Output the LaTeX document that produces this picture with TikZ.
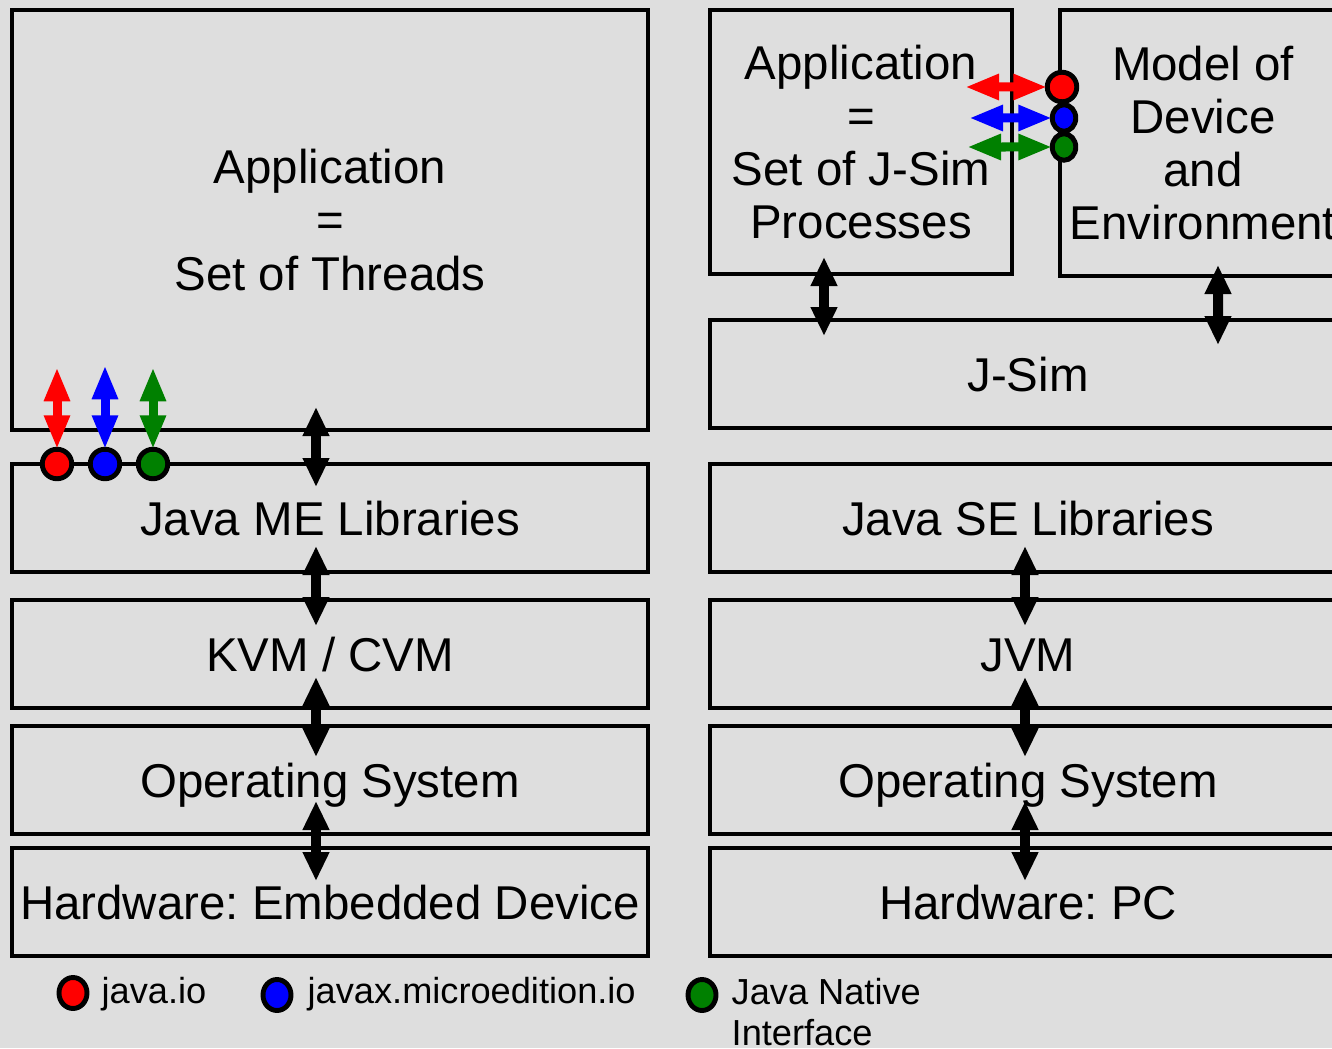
\documentclass[tikz,border=0pt]{standalone}
\usepackage{fontspec}
\setmainfont{Liberation Sans}
\usetikzlibrary{arrows.meta, positioning, calc, shapes.geometric}
\definecolor{bg}{RGB}{222,222,222}
\definecolor{jgreen}{RGB}{0,128,0}
\frenchspacing

\begin{document}
\begin{tikzpicture}[
  layer/.style={draw, line width=1.2pt, fill=bg, align=center, minimum width=6.36cm, minimum height=1.08cm, inner sep=0pt, outer sep=0pt, font=\fontsize{13.5}{15.1}\selectfont},
  oneline/.style={text height=9.7pt, text depth=0pt},
  arr/.style={{Triangle[length=2.9mm, width=2.5mm]}-{Triangle[length=2.9mm, width=2.5mm]}, line width=1mm},
  carr/.style={{Triangle[length=3.4mm, width=2.4mm]}-{Triangle[length=3.4mm, width=2.4mm]}, line width=0.9mm},
  port/.style={circle, draw, line width=1.4pt, minimum size=2.95mm, inner sep=0pt, outer sep=0pt},
  oport/.style={ellipse, draw, line width=1.4pt, minimum width=2.35mm, minimum height=2.65mm, inner sep=0pt, outer sep=0pt},
  legport/.style={ellipse, draw, line width=1.4pt, minimum width=2.8mm, minimum height=3.1mm, inner sep=0pt},
  legtext/.style={font=\fontsize{10.3}{11.4}\selectfont, inner sep=0pt, align=left}
]
\fill[bg] (0,0) rectangle (13.32,-10.48);
\useasboundingbox (0,0) rectangle (13.32,-10.48);
\clip (0,0) rectangle (13.32,-10.48);

% left stack: embedded device
\node[layer, minimum height=4.2cm] (app) at (3.30,-2.20) {Application\\=\\Set of Threads};
\node[layer, oneline, below=0.34cm of app] (melib) {Java ME Libraries};
\node[layer, oneline, below=0.28cm of melib] (kvm) {KVM / CVM};
\node[layer, oneline, below=0.18cm of kvm] (os) {Operating System};
\node[layer, oneline, below=0.14cm of os] (hw) {Hardware: Embedded Device};

% right stack: simulation on PC
\node[layer, minimum width=3.02cm, minimum height=2.64cm] (japp) at (8.61,-1.42) {Application\\=\\Set of J-Sim\\Processes};
\node[layer, minimum width=2.86cm, minimum height=2.66cm] (model) at (12.03,-1.43) {Model of\\Device\\and\\Environment};
\node[layer, oneline] (jsim) at (10.28,-3.74) {J-Sim};
\node[layer, oneline, below=0.36cm of jsim] (selib) {Java SE Libraries};
\node[layer, oneline, below=0.28cm of selib] (jvm) {JVM};
\node[layer, oneline, below=0.18cm of jvm] (ros) {Operating System};
\node[layer, oneline, below=0.14cm of ros] (rhw) {Hardware: PC};

\foreach \a/\b in {app/melib, melib/kvm, kvm/os, os/hw}
  \draw[arr] ($(\a.south)!0.5!(\b.north)+(-0.14,0.4)$) -- ($(\a.south)!0.5!(\b.north)+(-0.14,-0.4)$);
\foreach \a/\b in {selib/jvm, jvm/ros, ros/rhw}
  \draw[arr] ($(\a.south)!0.5!(\b.north)+(-0.03,0.4)$) -- ($(\a.south)!0.5!(\b.north)+(-0.03,-0.4)$);
\draw[arr] ($(japp.south)+(-0.37,0.17)$) -- ($(jsim.north)+(-2.04,-0.16)$);
\draw[arr] ($(model.south)+(0.15,0.11)$) -- ($(jsim.north)+(1.90,-0.25)$);

% io ports
\node[port, fill=red] (io) at ([xshift=4.5mm]melib.north west) {};
\node[port, fill=blue] (mio) at ([xshift=9.3mm]melib.north west) {};
\node[port, fill=jgreen] (jni) at ([xshift=14.1mm]melib.north west) {};
\coordinate (iotop) at ([yshift=8.2mm]io.north);
\coordinate (miotop) at ([yshift=8.4mm]mio.north);
\coordinate (jnitop) at ([yshift=8.2mm]jni.north);
\draw[carr, red] (iotop) -- (io.north);
\draw[carr, blue] (miotop) -- (mio.north);
\draw[carr, jgreen] (jnitop) -- (jni.north);

\node[port, fill=red] (rio) at ([xshift=0.2mm, yshift=-7.7mm]model.north west) {};
\node[oport, fill=blue] (rmio) at ([xshift=0.4mm, yshift=-10.8mm]model.north west) {};
\node[oport, fill=jgreen] (rjni) at ([xshift=0.4mm, yshift=-13.7mm]model.north west) {};
\coordinate (rioend) at (9.65,-0.87);
\coordinate (rmioend) at (9.69,-1.18);
\coordinate (rjniend) at (9.67,-1.47);
\draw[carr, red] (rioend) -- (rio.west);
\draw[carr, blue] (rmioend) -- (rmio.west);
\draw[carr, jgreen] (rjniend) -- (rjni.west);

% legend
\node[legport, fill=red] (legio) at (0.73,-9.93) {};
\node[legport, fill=blue] (legmio) at (2.77,-9.95) {};
\node[legport, fill=jgreen] (legjni) at (7.02,-9.95) {};
\node[legtext, anchor=base west] (legiot) at (1.01,-10.03) {java.io};
\node[legtext, anchor=base west] (legmiot) at (3.07,-10.03) {javax.microedition.io};
\node[legtext, anchor=north west] (legjnit) at (7.31,-9.78) {Java Native\\Interface};
\end{tikzpicture}
\end{document}
